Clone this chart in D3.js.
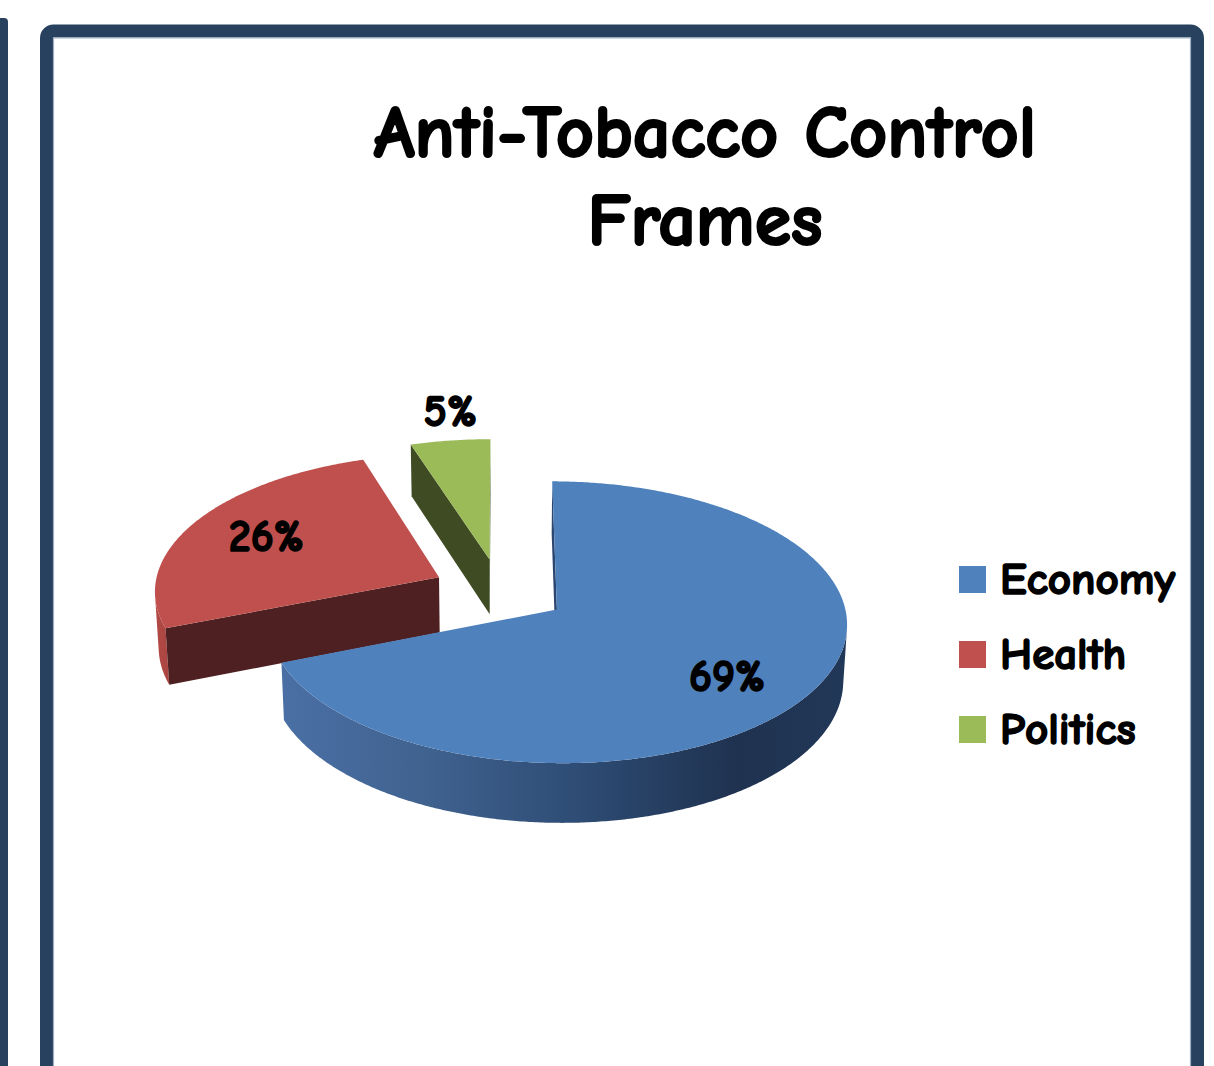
<!DOCTYPE html>
<html>
<head>
<meta charset="utf-8">
<script src="https://cdn.jsdelivr.net/npm/d3@7"></script>
<style>
  html, body { margin: 0; padding: 0; background: #ffffff; }
  svg { display: block; }
  text { font-family: "Comic Sans MS", "Comic Neue", Lato, "Noto Sans", sans-serif; font-weight: bold;
         fill: #000; stroke: #000; stroke-linejoin: round; }
</style>
</head>
<body>
<svg id="chart" width="1214" height="1066"></svg>
<script>
// ---- data ----
const categories = ["Economy", "Health", "Politics"];
const values = [69, 26, 5];
const valueLabels = ["69%", "26%", "5%"];
const titleLines = ["Anti-Tobacco Control", "Frames"];

// ---- styling ----
const topColors = ["#4f81bd", "#c0504d", "#9bbb59"];
const cutColors = ["#2b4770", "#4f2021", "#3e4b23"];
const frameColor = "#27415f";

// ---- 3D pie geometry (world units) ----
const R = 285;          // radius
const H = 64;           // thickness
const EXPLODE = 68;     // explosion distance of every slice
const TILT = 28.6 * Math.PI / 180;
const DIST = 2800;      // camera distance for perspective
const CX = 500, CY = 591;
const sinT = Math.sin(TILT), cosT = Math.cos(TILT);
// camera position in world space (X right, Y up, Z away from viewer)
const CAM = [0, DIST * sinT, -DIST * cosT];

function project(X, Y, Z) {
  const depth = DIST + Z * cosT - Y * sinT;
  const s = DIST / depth;
  return [CX + X * s, CY - (Z * sinT + Y * cosT) * s];
}

const svg = d3.select("#chart");
const defs = svg.append("defs");

// ---- frames ----
svg.append("rect")
  .attr("x", -12).attr("y", 18).attr("width", 20).attr("height", 1100)
  .attr("rx", 4).attr("fill", frameColor);
svg.append("rect")
  .attr("x", 46.5).attr("y", 31).attr("width", 1151).attr("height", 1100)
  .attr("rx", 7).attr("fill", "#ffffff")
  .attr("stroke", frameColor).attr("stroke-width", 13);
svg.append("path")
  .attr("d", "M53.5,1066 V37.8 H1190.5 V1066")
  .attr("fill", "none").attr("stroke", "#9fb0c4").attr("stroke-width", 1.2);

// ---- title ----
const title = svg.append("text")
  .attr("text-anchor", "middle")
  .style("font-size", "74px")
  .style("stroke-width", "2.2px");
title.append("tspan").attr("x", 705).attr("y", 157).text(titleLines[0]);
title.append("tspan").attr("x", 705).attr("y", 245).text(titleLines[1]);

// ---- gradients for curved walls ----
function wallGradient(id, x1, x2, stops) {
  const g = defs.append("linearGradient").attr("id", id)
    .attr("gradientUnits", "userSpaceOnUse")
    .attr("x1", x1).attr("x2", x2).attr("y1", 0).attr("y2", 0);
  stops.forEach(([o, c]) => g.append("stop").attr("offset", o).attr("stop-color", c));
}
wallGradient("wall0", 285, 848, [[0, "#4a6fa4"], [0.25, "#40628f"], [0.5, "#2f4e77"], [0.8, "#1f3250"], [1, "#223858"]]);
wallGradient("wall1", 150, 180, [[0, "#b34a46"], [1, "#a8433f"]]);
wallGradient("wall2", 400, 500, [[0, "#7e9a45"], [1, "#6f8a3a"]]);

// ---- pie layout ----
const pie = d3.pie().sort(null).value(d => d).startAngle(0).endAngle(2 * Math.PI);
const arcs = pie(values);
const line = d3.line();

const slices = arcs.map((a, i) => {
  const mid = (a.startAngle + a.endAngle) / 2;
  return { i, a0: a.startAngle, a1: a.endAngle, mid,
           ox: EXPLODE * Math.sin(mid), oz: EXPLODE * Math.cos(mid) };
});

function rimPoint(s, th, Y, r = R) {
  return project(s.ox + r * Math.sin(th), Y, s.oz + r * Math.cos(th));
}

function wallVisible(s, th) {
  const n = [Math.sin(th), 0, Math.cos(th)];
  const p = [s.ox + R * Math.sin(th), 0, s.oz + R * Math.cos(th)];
  return n[0] * (CAM[0] - p[0]) + n[1] * (CAM[1] - p[1]) + n[2] * (CAM[2] - p[2]) > 0;
}

function cutVisible(s, th, isStart) {
  const n = isStart ? [-Math.cos(th), 0, Math.sin(th)] : [Math.cos(th), 0, -Math.sin(th)];
  const p = [s.ox, 0, s.oz];
  return n[0] * (CAM[0] - p[0]) + n[1] * (CAM[1] - p[1]) + n[2] * (CAM[2] - p[2]) > 0;
}

const g = svg.append("g");
// far slices first, the front slice last
const drawOrder = [2, 1, 0];

drawOrder.forEach(idx => {
  const s = slices[idx];
  const steps = Math.max(8, Math.ceil((s.a1 - s.a0) / (Math.PI / 180) * 2));
  const thetas = d3.range(steps + 1).map(k => s.a0 + (s.a1 - s.a0) * k / steps);

  // curved outer wall: contiguous visible runs
  let run = [];
  const runs = [];
  thetas.forEach(th => {
    if (wallVisible(s, th)) run.push(th);
    else if (run.length) { runs.push(run); run = []; }
  });
  if (run.length) runs.push(run);
  runs.forEach(rn => {
    if (rn.length < 2) return;
    const pts = rn.map(th => rimPoint(s, th, 0))
      .concat(rn.slice().reverse().map(th => rimPoint(s, th, -H)));
    g.append("path").attr("d", line(pts) + "Z")
      .attr("fill", `url(#wall${idx})`);
  });

  // flat cut faces along the slice edges
  [[s.a0, true], [s.a1, false]].forEach(([th, isStart]) => {
    if (!cutVisible(s, th, isStart)) return;
    const pts = [project(s.ox, 0, s.oz), rimPoint(s, th, 0),
                 rimPoint(s, th, -H), project(s.ox, -H, s.oz)];
    g.append("path").attr("d", line(pts) + "Z")
      .attr("fill", cutColors[idx]);
  });

  // top face
  const topPts = [project(s.ox, 0, s.oz)].concat(thetas.map(th => rimPoint(s, th, 0)));
  g.append("path").attr("d", line(topPts) + "Z")
    .attr("fill", topColors[idx]);
});

// ---- data labels ----
const labelRadius = [0.68, 0.7, 1.0];
const labelLift = [-12, 2, 29];
slices.forEach(s => {
  const [x, y] = rimPoint(s, s.mid, 0, R * labelRadius[s.i]);
  svg.append("text")
    .attr("x", x).attr("y", y - labelLift[s.i])
    .attr("text-anchor", "middle")
    .attr("dominant-baseline", "central")
    .style("font-size", "44px")
    .style("stroke-width", "1.6px")
    .text(valueLabels[s.i]);
});

// ---- legend ----
const legend = svg.append("g").attr("transform", "translate(959,566)");
categories.forEach((c, i) => {
  const row = legend.append("g").attr("transform", `translate(0,${i * 75})`);
  row.append("rect").attr("width", 27).attr("height", 27).attr("fill", topColors[i]);
  row.append("text").attr("x", 41).attr("y", 28)
    .style("font-size", "45px")
    .style("stroke-width", "1.6px")
    .text(c);
});
</script>
</body>
</html>
